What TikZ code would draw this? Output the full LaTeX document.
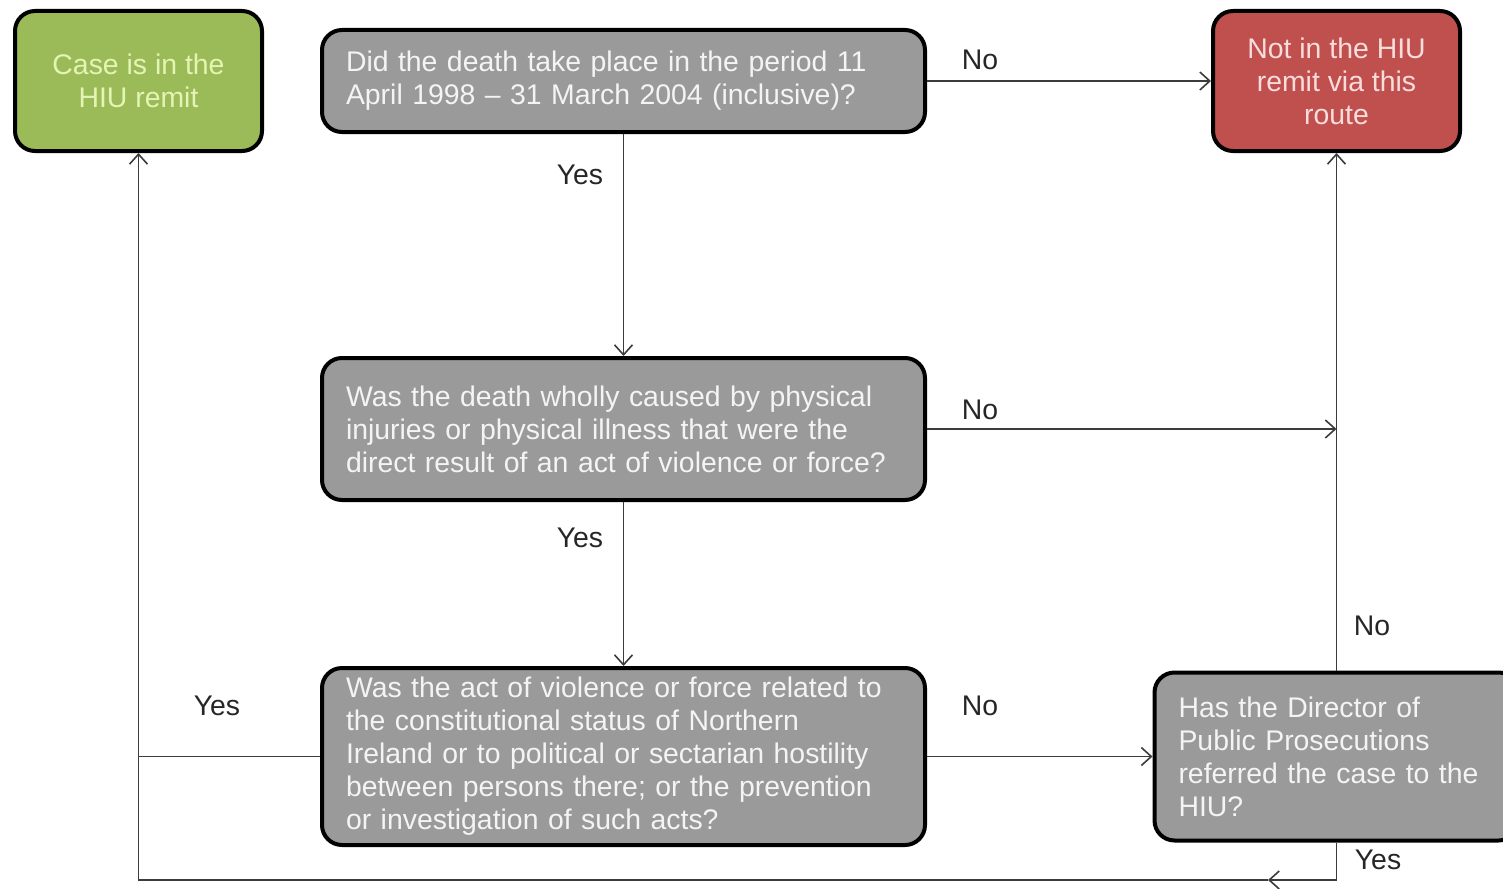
\documentclass[tikz,border=0pt]{standalone}
\usepackage{fontspec}
\setmainfont{Liberation Sans}
\usetikzlibrary{positioning, arrows.meta}
\definecolor{boxgray}{HTML}{9A9A9A}
\definecolor{boxgreen}{HTML}{9BBB59}
\definecolor{boxred}{HTML}{C0504D}
\definecolor{textgreen}{HTML}{E4F4B4}
\definecolor{textred}{HTML}{F9DCDC}
\definecolor{textgray}{HTML}{F4F4F4}
\definecolor{linegray}{HTML}{3C3C3C}

\begin{document}
\begin{tikzpicture}[x=0.5pt, y=-0.5pt, auto, on grid,
    box/.style={draw=black, line width=2pt, rounded corners=10pt,
      font=\fontsize{14.2}{16.5}\selectfont, inner ysep=0pt},
    question/.style={box, fill=boxgray, text=textgray, align=left, inner xsep=12pt},
    outcome/.style={box, align=center, inner xsep=0pt, minimum width=123.5pt, minimum height=70pt},
    flow/.style={linegray, line width=0.8pt, -{Straight Barb[length=5pt, width=9pt]}},
    link/.style={linegray, line width=0.8pt},
    answer/.style={text=black!85, font=\fontsize{14.2}{16}\selectfont}]
      \useasboundingbox (0,0) rectangle (1503,888);

      \node[question, text width=277.5pt, minimum height=51pt] (q1) at (623.5,81)
        {Did the death take place in the period 11\\April 1998 -- 31 March 2004 (inclusive)?};
      \node[outcome, fill=boxgreen, text=textgreen, left=242.5pt of q1] (inremit)
        {Case is in the\\HIU remit};
      \node[outcome, fill=boxred, text=textred, right=356.5pt of q1] (notremit)
        {Not in the HIU\\remit via this\\route};
      \node[question, text width=277.5pt, minimum height=71pt, below=174pt of q1] (q2)
        {Was the death wholly caused by physical\\injuries or physical illness that were the\\direct result of an act of violence or force?};
      \node[question, text width=277.5pt, minimum height=88.5pt, below=163.75pt of q2] (q3)
        {Was the act of violence or force related to\\the constitutional status of Northern\\Ireland or to political or sectarian hostility\\between persons there; or the prevention\\or investigation of such acts?};
      \node[question, text width=158pt, minimum height=84pt, right=356.5pt of q3] (q4)
        {Has the Director of\\Public Prosecutions\\referred the case to the\\HIU?};

      \coordinate (back) at (1268,880);

      \draw[flow] (q1) -- (notremit);
      \draw[flow] (q1) -- (q2);
      \draw[flow] (q2) -- (q3);
      \draw[flow] (q2.east) -- (q2.east -| notremit.south);
      \draw[flow] (q3) -- (q4);
      \draw[flow] (q4.north) -- (notremit.south);
      \draw[flow] (q4.south) |- (back);
      \draw[flow] (back) -| (inremit.south);
      \draw[link] (q3.west) -- (q3.west -| inremit.south);

      \node[answer] (no1) at (980,60) {No};
      \node[answer] (yes1) at (580,175) {Yes};
      \node[answer] (no2) at (980,410) {No};
      \node[answer] (yes2) at (580,538) {Yes};
      \node[answer] (yes3) at (217,706) {Yes};
      \node[answer] (no3) at (980,706) {No};
      \node[answer] (no4) at (1372,626) {No};
      \node[answer] (yes4) at (1378,860) {Yes};
    \end{tikzpicture}
\end{document}
